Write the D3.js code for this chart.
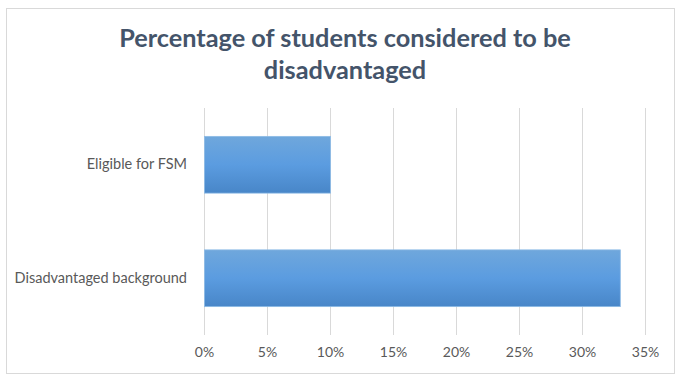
<!DOCTYPE html>
<html><head><meta charset="utf-8">
<script src="https://cdn.jsdelivr.net/npm/d3@7"></script>
<style>body{margin:0;background:#fff}svg{display:block}</style>
</head><body>
<script>
const categories = ["Eligible for FSM", "Disadvantaged background"];
const values = [0.10, 0.33];
const tickValues = [0, 0.05, 0.10, 0.15, 0.20, 0.25, 0.30, 0.35];
const titleLines = ["Percentage of students considered to be", "disadvantaged"];

const W = 688, H = 382;
const svg = d3.select("body").append("svg").attr("width", W).attr("height", H);

const defs = svg.append("defs");
const g = defs.append("linearGradient").attr("id", "barGrad").attr("x1", 0).attr("y1", 0).attr("x2", 0).attr("y2", 1);
g.append("stop").attr("offset", "0%").attr("stop-color", "#6fa7dc");
g.append("stop").attr("offset", "50%").attr("stop-color", "#5b9ce0");
g.append("stop").attr("offset", "100%").attr("stop-color", "#4886c8");

// frame
svg.append("rect").attr("x", 6.5).attr("y", 8.5).attr("width", 668).attr("height", 365)
  .attr("fill", "#fff").attr("stroke", "#d9d9d9").attr("stroke-width", 1);

const x = d3.scaleLinear().domain([0, 0.35]).range([204, 645]);
const y = d3.scaleBand().domain(categories).range([108, 335]).paddingInner(0.5).paddingOuter(0.25);

// gridlines
svg.append("g").selectAll("line").data(tickValues).join("line")
  .attr("x1", d => x(d) + 0.5).attr("x2", d => x(d) + 0.5)
  .attr("y1", 108).attr("y2", 335)
  .attr("stroke", "#d9d9d9").attr("stroke-width", 1);

// bars
svg.append("g").selectAll("rect").data(values).join("rect")
  .attr("x", x(0) + 0.5)
  .attr("y", (d, i) => y(categories[i]))
  .attr("width", d => x(d) - x(0))
  .attr("height", y.bandwidth())
  .attr("fill", "url(#barGrad)")
  .attr("stroke", "#8dbbe6").attr("stroke-width", 0.8);

// x axis labels
const xAxis = d3.axisBottom(x).tickValues(tickValues).tickFormat(d3.format(".0%")).tickSize(0).tickPadding(0);
const ax = svg.append("g").attr("transform", "translate(0,347)").call(xAxis);
ax.select(".domain").remove();
ax.selectAll("text").attr("font-family", "Lato, 'Open Sans', sans-serif").attr("font-size", 14).attr("fill", "#595959").attr("dy", "0.71em");

// y labels
const yAxis = d3.axisLeft(y).tickSize(0).tickPadding(17);
const ay = svg.append("g").attr("transform", "translate(204,0)").call(yAxis);
ay.select(".domain").remove();
ay.selectAll("text").attr("font-family", "Lato, 'Open Sans', sans-serif").attr("font-size", 14.5).attr("fill", "#595959");

// title
svg.append("g").selectAll("text").data(titleLines).join("text")
  .attr("x", 345).attr("y", (d, i) => 47 + i * 32)
  .attr("text-anchor", "middle")
  .attr("font-family", "Lato, 'Open Sans', sans-serif").attr("font-weight", "bold")
  .attr("font-size", 25.3).attr("fill", "#44546a")
  .text(d => d);
</script>
</body></html>
